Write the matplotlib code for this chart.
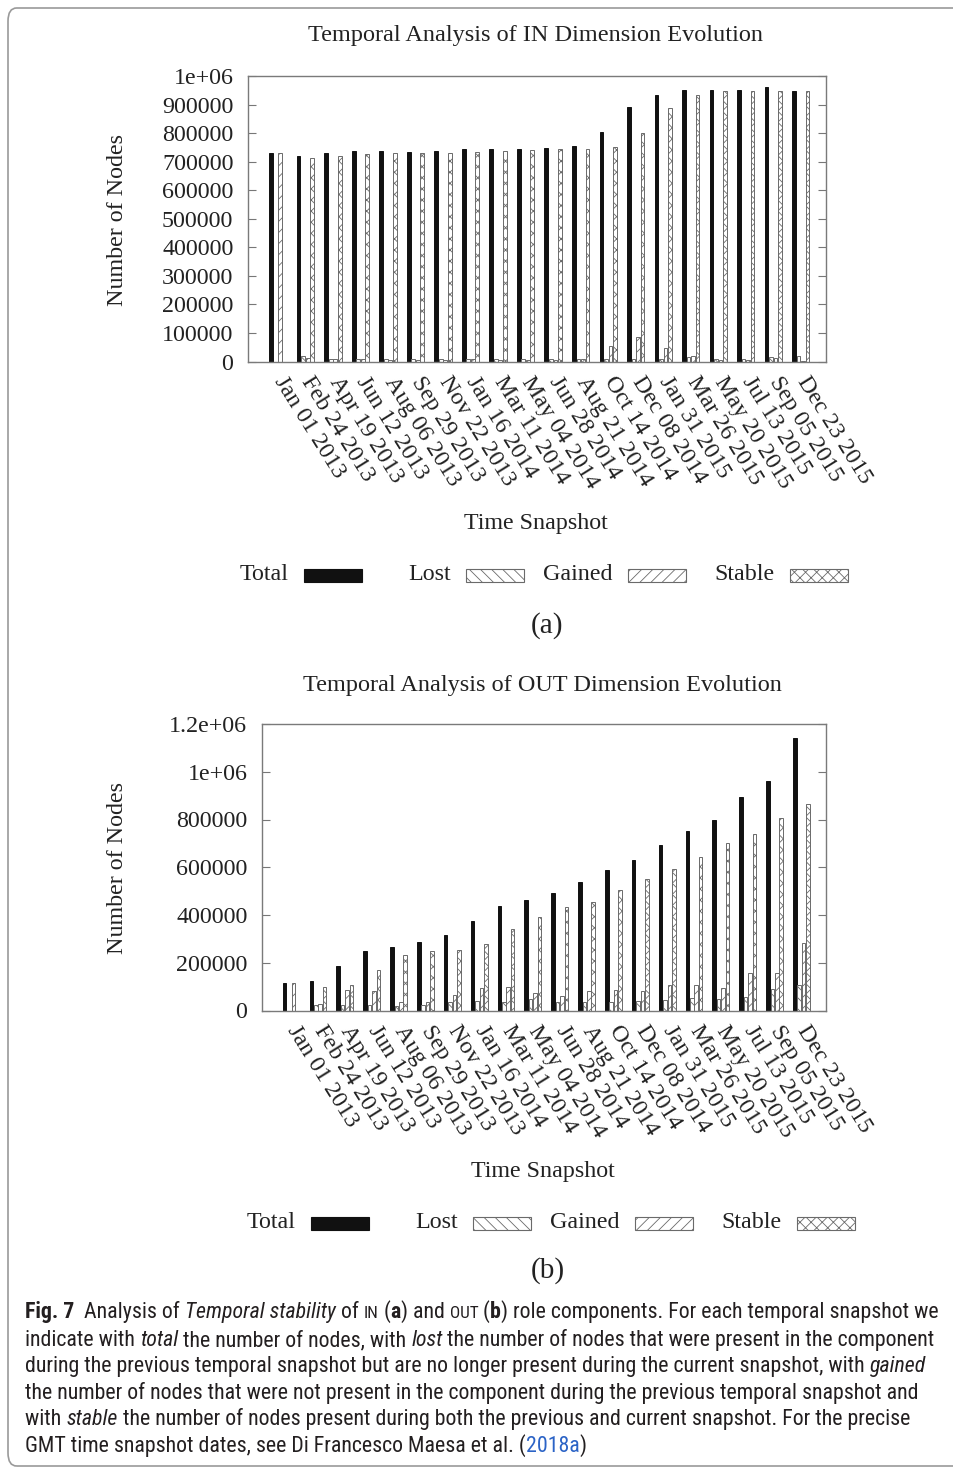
import numpy as np
import matplotlib
matplotlib.use("Agg")
import matplotlib.pyplot as plt
from matplotlib.patches import Rectangle, FancyBboxPatch
from matplotlib.font_manager import FontProperties, fontManager
import matplotlib.transforms as mtransforms

# ---------------- data ----------------
dates = ['Jan 01 2013', 'Feb 24 2013', 'Apr 19 2013', 'Jun 12 2013', 'Aug 06 2013',
         'Sep 29 2013', 'Nov 22 2013', 'Jan 16 2014', 'Mar 11 2014', 'May 04 2014',
         'Jun 28 2014', 'Aug 21 2014', 'Oct 14 2014', 'Dec 08 2014', 'Jan 31 2015',
         'Mar 26 2015', 'May 20 2015', 'Jul 13 2015', 'Sep 05 2015', 'Dec 23 2015']

in_total = [732000, 720000, 730000, 737000, 739000, 734000, 737000, 744000, 745000, 745000,
            747000, 754000, 804000, 890000, 935000, 950000, 950000, 952000, 961000, 948000]
in_lost = [0, 20000, 10000, 10000, 9000, 9000, 8000, 9000, 8000, 8000,
           8000, 9000, 8000, 8000, 8000, 15000, 8000, 8000, 15000, 20000]
in_gained = [732000, 12000, 8000, 8000, 7000, 6000, 6000, 8000, 6000, 6000,
             4000, 10000, 53000, 86000, 48000, 18000, 5000, 5000, 14000, 3000]
in_stable = [0, 712000, 720000, 727000, 732000, 730000, 732000, 734000, 739000, 740000,
             744000, 744000, 751000, 802000, 887000, 932000, 946000, 948000, 949000, 946000]

out_total = [117000, 123000, 188000, 249000, 267000, 286000, 318000, 375000, 437000, 462000,
             493000, 538000, 588000, 631000, 693000, 750000, 797000, 895000, 963000, 1143000]
out_lost = [0, 22000, 22000, 24000, 18000, 21000, 34000, 39000, 34000, 49000,
            34000, 36000, 34000, 39000, 45000, 53000, 50000, 57000, 90000, 105000]
out_gained = [117000, 27000, 85000, 80000, 36000, 36000, 64000, 96000, 99000, 74000,
              62000, 83000, 85000, 83000, 108000, 108000, 96000, 157000, 157000, 284000]
out_stable = [0, 99000, 105000, 169000, 232000, 251000, 253000, 278000, 341000, 390000,
              433000, 455000, 504000, 550000, 591000, 644000, 703000, 740000, 807000, 863000]

series_names = ['Total', 'Lost', 'Gained', 'Stable']
in_yticks = [0, 100000, 200000, 300000, 400000, 500000, 600000, 700000, 800000, 900000, 1000000]
in_yticklabels = ['0', '100000', '200000', '300000', '400000', '500000', '600000',
                  '700000', '800000', '900000', '1e+06']
out_yticks = [0, 200000, 400000, 600000, 800000, 1000000, 1200000]
out_yticklabels = ['0', '200000', '400000', '600000', '800000', '1e+06', '1.2e+06']

# ---------------- styling ----------------
W, H = 954, 1470
SERIF = 'Liberation Serif'
FS = 17.3
styles = [
    dict(facecolor='#111111', edgecolor='#111111', hatch=None),
    dict(facecolor='white', edgecolor='#6a6a6a', hatch='\\\\\\'),
    dict(facecolor='white', edgecolor='#6a6a6a', hatch='///'),
    dict(facecolor='white', edgecolor='#6a6a6a', hatch='xxx'),
]
plt.rcParams['hatch.linewidth'] = 0.6

fig = plt.figure(figsize=(W / 100, H / 100), dpi=100)
fig.patch.set_facecolor('white')


def fx(x):
    return x / W


def fy(y):
    return 1 - y / H


def make_chart(rect_px, series, yticks, yticklabels, ymax, title, title_xy,
               ylabel_xy, xlabel_xy, legend_y, legend_dx, tag, tag_xy):
    l, t, r, b = rect_px
    ax = fig.add_axes([fx(l), fy(b), (r - l) / W, (b - t) / H])
    x = np.arange(len(dates))
    slot = 0.164
    bw = 0.135
    offs = (np.arange(4) - 1.5) * slot
    for vals, off, st in zip(series, offs, styles):
        ax.bar(x + off, vals, width=bw, linewidth=0.7, **st)
    ax.set_xlim(-1.085, len(dates) - 0.085)
    ax.set_ylim(0, ymax)
    ax.set_yticks(yticks)
    ax.set_yticklabels(yticklabels, fontfamily=SERIF, fontsize=FS, color='#222222')
    ax.tick_params(axis='y', direction='in', length=6, width=0.8, color='#777777',
                   right=True, pad=10.5)
    ax.set_xticks(x)
    ax.set_xticklabels(dates, fontfamily=SERIF, fontsize=FS, color='#222222',
                       rotation=-58, ha='left', va='center', rotation_mode='anchor')
    ax.tick_params(axis='x', length=0, pad=12)
    off_tr = mtransforms.ScaledTranslation(0.5 / 100, 0, fig.dpi_scale_trans)
    for lab in ax.get_xticklabels():
        lab.set_transform(lab.get_transform() + off_tr)
    for sp in ax.spines.values():
        sp.set_color('#7a7a7a')
        sp.set_linewidth(1.0)
    fig.text(fx(title_xy[0]), fy(title_xy[1]), title, fontfamily=SERIF, fontsize=17.5,
             ha='center', va='center', color='#222222')
    fig.text(fx(ylabel_xy[0]), fy(ylabel_xy[1]), 'Number of Nodes', fontfamily=SERIF,
             fontsize=FS, rotation=90, ha='center', va='center', color='#222222')
    fig.text(fx(xlabel_xy[0]), fy(xlabel_xy[1]), 'Time Snapshot', fontfamily=SERIF,
             fontsize=FS, ha='center', va='center', color='#222222')
    # legend (gnuplot style: text then sample box)
    box_lefts = [304, 466, 628, 790]
    for name, bl, st in zip(series_names, box_lefts, styles):
        bl = bl + legend_dx
        fig.text(fx(bl - 15), fy(legend_y), name, fontfamily=SERIF, fontsize=FS,
                 ha='right', va='center', color='#222222')
        rect = Rectangle((fx(bl), fy(legend_y + 6.5)), 58 / W, 13 / H,
                         transform=fig.transFigure, linewidth=0.8,
                         facecolor=st['facecolor'], edgecolor=st['edgecolor'],
                         hatch=st['hatch'])
        fig.add_artist(rect)
    fig.text(fx(tag_xy[0]), fy(tag_xy[1]), tag, fontfamily=SERIF, fontsize=21,
             ha='center', va='center', color='#222222')
    return ax


make_chart((248, 76, 826, 361.5), [in_total, in_lost, in_gained, in_stable],
           in_yticks, in_yticklabels, 1000000,
           'Temporal Analysis of IN Dimension Evolution', (536, 36),
           (118, 220), (536, 523), 575, 0, '(a)', (547, 626))
make_chart((262, 724, 826, 1010.5), [out_total, out_lost, out_gained, out_stable],
           out_yticks, out_yticklabels, 1200000,
           'Temporal Analysis of OUT Dimension Evolution', (542, 685),
           (118, 868), (543, 1172), 1223, 7, '(b)', (548, 1271))

# outer frame
frame = FancyBboxPatch((fx(8), fy(1466)), (990 - 8) / W, (1466 - 8) / H,
                       boxstyle='round,pad=0,rounding_size=0.009',
                       transform=fig.transFigure, facecolor='none',
                       edgecolor='#9a9a9a', linewidth=1.2)
fig.add_artist(frame)

# ---------------- caption ----------------


def has_regular(fam, stretch=None):
    for f in fontManager.ttflist:
        if f.name != fam or f.style != 'normal':
            continue
        if stretch is not None and f.stretch != stretch:
            continue
        if f.weight in (400, 'normal', 'regular', 'book', 'Regular'):
            return True
    return False


cap_family = None
cap_stretch = 'normal'
for cand in ['Liberation Sans Narrow', 'Roboto Condensed', 'Open Sans Condensed',
             'Noto Sans Condensed']:
    if has_regular(cand):
        cap_family = cand
        break
if cap_family is None:
    for st in ('semi-condensed', 'condensed'):
        if has_regular('Open Sans', st):
            cap_family, cap_stretch = 'Open Sans', st
            break
if cap_family is None:
    for cand in ['Lato', 'Open Sans', 'Noto Sans', 'DejaVu Sans']:
        if has_regular(cand):
            cap_family = cand
            break
if cap_family is None:
    cap_family = 'DejaVu Sans'

TXT = '#231f20'
BLUE = '#2b63c6'
N, I, B, S, L = 'n', 'i', 'b', 's', 'l'
cap_lines = [
    [('Fig. 7', B), ('  Analysis of ', N), ('Temporal stability', I), (' of ', N), ('IN', S),
     (' (', N), ('a', B), (') and ', N), ('OUT', S), (' (', N), ('b', B),
     (') role components. For each temporal snapshot we', N)],
    [('indicate with ', N), ('total', I), (' the number of nodes, with ', N), ('lost', I),
     (' the number of nodes that were present in the component', N)],
    [('during the previous temporal snapshot but are no longer present during the current snapshot, with ', N),
     ('gained', I)],
    [('the number of nodes that were not present in the component during the previous temporal snapshot and', N)],
    [('with ', N), ('stable', I), (' the number of nodes present during both the previous and current snapshot. For the precise', N)],
    [('GMT time snapshot dates, see Di Francesco Maesa et al. (', N), ('2018a', L), (')', N)],
]
line_ends = [927, 944, 932, 930, 910, 563]
baselines = [1318, 1346, 1372, 1399, 1425, 1452]

renderer = fig.canvas.get_renderer()


def fprop(kind, size):
    kw = dict(family=cap_family, stretch=cap_stretch, size=size, weight='normal')
    if kind == B:
        kw['weight'] = 'bold'
    if kind == I:
        kw['style'] = 'italic'
    if kind == S:
        kw['size'] = size * 0.78
    return FontProperties(**kw)


def width(s, fp):
    w1 = renderer.get_text_width_height_descent('|' + s + '|', fp, ismath=False)[0]
    w0 = renderer.get_text_width_height_descent('||', fp, ismath=False)[0]
    return w1 - w0


base = 10.0
w_sum = sum(sum(width(s, fprop(k, base)) for s, k in ln) for ln in cap_lines)
t_sum = sum(e - 25 for e in line_ends)
cap_size = base * t_sum / w_sum

for line, yb in zip(cap_lines, baselines):
    xpos = 25.0
    for s, k in line:
        fp = fprop(k, cap_size)
        fig.text(fx(xpos), fy(yb), s, fontproperties=fp, ha='left', va='baseline',
                 color=BLUE if k == L else TXT)
        xpos += width(s, fp)

fig.savefig('out.png', dpi=100, facecolor='white')
